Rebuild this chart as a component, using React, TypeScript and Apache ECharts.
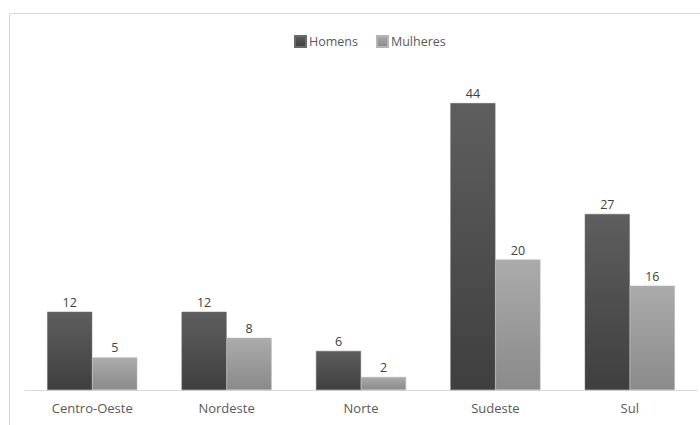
import React, { useEffect, useRef } from "react";
import * as echarts from "echarts";

const categories = ["Centro-Oeste", "Nordeste", "Norte", "Sudeste", "Sul"];
const homens = [12, 12, 6, 44, 27];
const mulheres = [5, 8, 2, 20, 16];

const FONT = "'Open Sans', 'Noto Sans', sans-serif";

export default function App() {
  const ref = useRef<HTMLDivElement>(null);

  useEffect(() => {
    if (!ref.current) return;
    const chart = echarts.init(ref.current, null, { renderer: "svg" });

    const darkGrad = new echarts.graphic.LinearGradient(0, 0, 0, 1, [
      { offset: 0, color: "#5e5e5e" },
      { offset: 1, color: "#3f3f3f" },
    ]);
    const lightGrad = new echarts.graphic.LinearGradient(0, 0, 0, 1, [
      { offset: 0, color: "#ababab" },
      { offset: 1, color: "#8a8a8a" },
    ]);

    chart.setOption({
      animation: false,
      backgroundColor: "#ffffff",
      textStyle: { fontFamily: FONT },
      graphic: [
        {
          type: "rect",
          shape: { x: 9.5, y: 13.5, width: 720, height: 440 },
          style: { fill: "none", stroke: "#d9d9d9", lineWidth: 1 },
          silent: true,
          z: -1,
        },
      ],
      legend: {
        top: 30,
        left: 289,
        itemWidth: 11,
        itemHeight: 11,
        itemGap: 18,
        icon: "rect",
        textStyle: { fontFamily: FONT, fontSize: 12.5, color: "#595959", padding: [0, 0, 0, -2] },
        data: ["Homens", "Mulheres"],
      },
      grid: { left: 25, right: 3, top: 64, bottom: 35 },
      xAxis: {
        type: "category",
        data: categories,
        axisLine: { lineStyle: { color: "#d9d9d9", width: 1 } },
        axisTick: { show: false },
        axisLabel: { color: "#595959", fontSize: 13, fontFamily: FONT, margin: 11 },
      },
      yAxis: {
        type: "value",
        min: 0,
        max: 50,
        show: false,
        splitLine: { show: false },
      },
      series: [
        {
          name: "Homens",
          type: "bar",
          data: homens,
          barGap: "0%",
          barCategoryGap: "33%",
          itemStyle: { color: darkGrad, borderColor: "#6a6a6a", borderWidth: 0.5 },
          label: {
            show: true,
            position: "top",
            distance: 3,
            color: "#404040",
            fontSize: 12.5,
            fontFamily: FONT,
          },
        },
        {
          name: "Mulheres",
          type: "bar",
          data: mulheres,
          itemStyle: { color: lightGrad, borderColor: "#b5b5b5", borderWidth: 0.5 },
          label: {
            show: true,
            position: "top",
            distance: 3,
            color: "#404040",
            fontSize: 12.5,
            fontFamily: FONT,
          },
        },
      ],
    });

    return () => chart.dispose();
  }, []);

  return (
    <div
      ref={ref}
      style={{ position: "absolute", left: 0, top: 0, width: 700, height: 425 }}
    />
  );
}
